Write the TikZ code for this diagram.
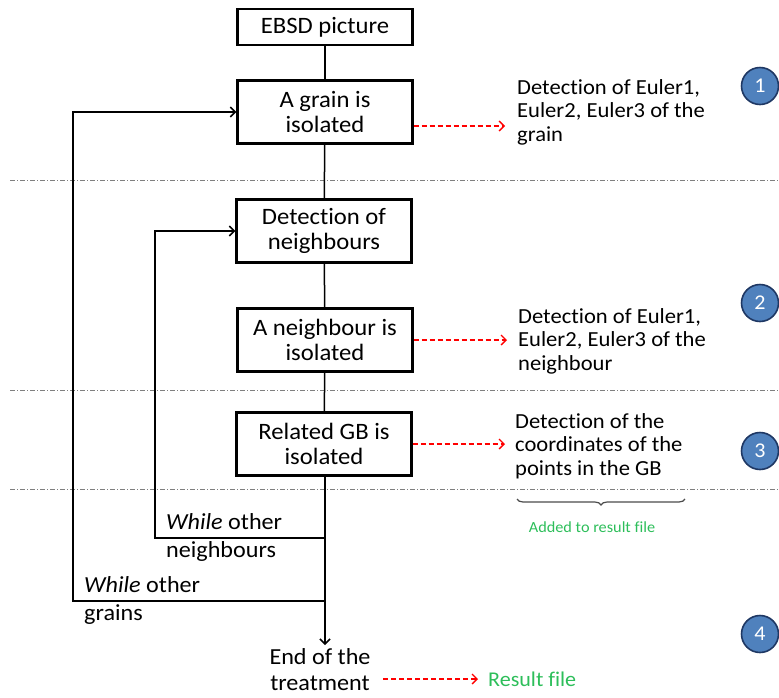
\documentclass[tikz,border=0pt]{standalone}
\usepackage{fontspec}
\setmainfont[FakeStretch=1.05,Ligatures=NoCommon]{Carlito}
\usetikzlibrary{arrows.meta,decorations.pathreplacing,calc}
\definecolor{nblue}{HTML}{4F81BD}
\definecolor{nblueb}{HTML}{1F3864}
\definecolor{rgreen}{HTML}{2DBE5A}
\definecolor{sepgray}{HTML}{7F7F7F}
\begin{document}
\begin{tikzpicture}[x=1pt,y=-1pt,
  stepbox/.style={draw,line width=2.3pt,minimum width=175pt,align=center,font=\fontsize{23.5}{25}\selectfont,inner sep=2pt},
  conn/.style={line width=1.5pt},
  loopline/.style={line width=1.5pt,-{Straight Barb[length=5pt,width=10pt]}},
  reddash/.style={draw=red,line width=1.3pt,dash pattern=on 5pt off 3pt,-{Straight Barb[length=5pt,width=10pt]}},
  sep/.style={sepgray,line width=0.9pt,dash pattern=on 5pt off 2pt on 1pt off 2pt},
  sidetext/.style={align=left,anchor=west,font=\fontsize{21.5}{23.5}\selectfont,inner sep=0pt},
  looplabel/.style={align=left,anchor=west,font=\fontsize{23}{28}\selectfont,inner sep=0pt},
  num/.style={circle,fill=nblue,draw=nblueb,line width=1.6pt,minimum size=37pt,inner sep=0pt,text=white,font=\fontsize{21}{21}\selectfont}
]
\useasboundingbox (0,0) rectangle (779,697);

% boxes
\node[stepbox,minimum height=36pt] (ebsd) at (325,27) {EBSD picture};
\node[stepbox,minimum height=63pt] (grain) at (325,112) {A grain is\\isolated};
\node[stepbox,minimum height=63pt] (neigh) at (324,231) {Detection of\\neighbours};
\node[stepbox,minimum height=63pt] (aneigh) at (325,340) {A neighbour is\\isolated};
\node[stepbox,minimum height=63pt] (gb) at (324,444) {Related GB is\\isolated};
\node[align=center,font=\fontsize{23}{26}\selectfont,inner sep=0pt] (endt) at (320,670) {End of the\\treatment};

% separators
\coordinate (s1a) at (10,180); \coordinate (s1b) at (779,180);
\coordinate (s2a) at (10,390); \coordinate (s2b) at (779,390);
\coordinate (s3a) at (10,489); \coordinate (s3b) at (779,489);
\draw[sep] (s1a) -- (s1b);
\draw[sep] (s2a) -- (s2b);
\draw[sep] (s3a) -- (s3b);

% main line
\draw[conn] (ebsd) -- (grain);
\draw[conn] (grain) -- (neigh);
\draw[conn] (neigh) -- (aneigh);
\draw[conn] (aneigh) -- (gb);
\coordinate (endtop) at (325,645);
\draw[loopline] (gb.south -| endtop) -- (endtop);

% loops
\coordinate (nj) at (325,538);
\coordinate (nc) at (155,538);
\coordinate (gj) at (325,601);
\coordinate (gc) at (73,601);
\draw[loopline] (nj) -- (nc) |- (neigh.west);
\draw[loopline] (gj) -- (gc) |- (grain.west);

\node[looplabel] (lbn) at (166,537) {\textit{While} other\\neighbours};
\node[looplabel] (lbg) at (84,600) {\textit{While} other\\grains};

% side texts
\node[sidetext] (t1) at (517,112) {Detection of Euler1,\\Euler2, Euler3 of the\\grain};
\node[sidetext] (t2) at (518,341) {Detection of Euler1,\\Euler2, Euler3 of the\\neighbour};
\node[sidetext] (t3) at (515,446) {Detection of the\\coordinates of the\\points in the GB};
\coordinate (a1) at (505,126);
\coordinate (a2) at (507,340);
\coordinate (a3) at (505,444);
\draw[reddash] (grain.east |- a1) -- (a1);
\draw[reddash] (aneigh.east |- a2) -- (a2);
\draw[reddash] (gb.east |- a3) -- (a3);

% brace
\coordinate (b1) at (517,499);
\coordinate (b2) at (685,499);
\draw[sepgray!60!black,line width=1.2pt,decorate,decoration={brace,mirror,amplitude=6pt}] (b1) -- (b2);
\node[text=rgreen,font=\fontsize{15.5}{16}\selectfont,inner sep=0pt] (added) at (592,527) {Added to result file};

% result
\node[text=rgreen,anchor=west,font=\fontsize{21}{24}\selectfont,inner sep=0pt] (res) at (488,679) {Result file};
\coordinate (r0) at (383,679);
\coordinate (r1) at (478,679);
\draw[reddash] (r0) -- (r1);

% numbers
\node[num] (n1) at (760,86) {1};
\node[num] (n2) at (760,303) {2};
\node[num] (n3) at (760,451) {3};
\node[num] (n4) at (760,634) {4};
\end{tikzpicture}
\end{document}
